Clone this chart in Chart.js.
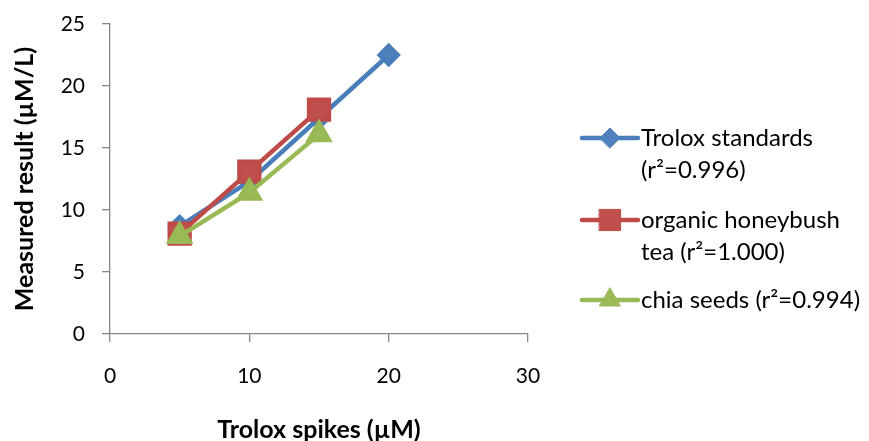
<!DOCTYPE html>
<html><head><meta charset="utf-8">
<script src="https://cdn.jsdelivr.net/npm/chart.js@4/dist/chart.umd.min.js"></script>
<style>html,body{margin:0;padding:0;background:#fff}#wrap{width:869px;height:441px}</style>
</head><body><div id="wrap"><canvas id="c" width="869" height="441"></canvas></div>
<script>
const spikes = [5, 10, 15, 20];
const troloxStd = [8.7, 12.3, 17.4, 22.5];
const honeybush = [8.1, 13.1, 18.1];
const chia = [7.9, 11.4, 16.1];
const seriesLabels = [
  ["Trolox standards", "(r²=0.996)"],
  ["organic honeybush", "tea (r²=1.000)"],
  ["chia seeds (r²=0.994)"]
];
const xTitle = "Trolox spikes (µM)";
const yTitle = "Measured result (µM/L)";
const FONT = "Lato";

function pts(vals){ return vals.map((v,i)=>({x:spikes[i], y:v})); }

const legendPlugin = {
  id: 'customLegend',
  afterDraw(chart){
    const ctx = chart.ctx;
    const x0 = 582, x1 = 638, tx = 641;
    const ys = [138, 220, 300];
    const legendRadius = [10, 15, 12];
    chart.data.datasets.forEach((ds, i) => {
      const y = ys[i];
      ctx.save();
      ctx.strokeStyle = ds.borderColor; ctx.lineWidth = 4.5; ctx.lineCap = 'round';
      ctx.beginPath(); ctx.moveTo(x0, y); ctx.lineTo(x1, y); ctx.stroke();
      ctx.fillStyle = ds.pointBackgroundColor; ctx.strokeStyle = ds.pointBorderColor; ctx.lineWidth = 1;
      Chart.helpers.drawPoint(ctx, {pointStyle: ds.pointStyle, rotation: 0, radius: legendRadius[i], borderWidth: 1}, (x0+x1)/2, y);
      ctx.restore();
      ctx.save();
      ctx.fillStyle = '#000'; ctx.font = '24px ' + FONT; ctx.textBaseline = 'middle';
      ds.label.forEach((t, k) => ctx.fillText(t, tx, y + k*32));
      ctx.restore();
    });
  }
};

new Chart(document.getElementById('c'), {
  type: 'line',
  data: {
    datasets: [
      {label: seriesLabels[0], data: pts(troloxStd), order: 2, borderColor: '#4A7EBB', backgroundColor: '#4F81BD',
       pointBackgroundColor: '#4F81BD', pointBorderColor: '#4A7EBB', pointStyle: 'rectRot', pointRadius: 9, borderWidth: 4.5},
      {label: seriesLabels[1], data: pts(honeybush), order: 1, borderColor: '#BE4B48', backgroundColor: '#C0504D',
       pointBackgroundColor: '#C0504D', pointBorderColor: '#BE4B48', pointStyle: 'rect', pointRadius: 14, borderWidth: 4.5},
      {label: seriesLabels[2], data: pts(chia), order: 0, borderColor: '#98B954', backgroundColor: '#9BBB59',
       pointBackgroundColor: '#9BBB59', pointBorderColor: '#98B954', pointStyle: 'triangle', pointRadius: 11.5, borderWidth: 4.5}
    ]
  },
  options: {
    responsive: false, animation: false, devicePixelRatio: 1,
    layout: {padding: {left: 0, right: 341, top: 24, bottom: 0}},
    plugins: {legend: {display: false}, tooltip: {enabled: false}},
    elements: {line: {tension: 0}},
    scales: {
      x: {type: 'linear', min: 0, max: 30,
          afterFit(s){ s.height = 107; s.paddingLeft = 0; s.paddingRight = 0; },
          ticks: {stepSize: 10, color: '#000', font: {family: FONT, size: 21}, padding: 22},
          grid: {display: true, drawOnChartArea: false, drawTicks: true, tickLength: 8, color: '#888888', lineWidth: 1.3},
          border: {color: '#888888', width: 1.3},
          title: {display: true, text: xTitle, color: '#000', font: {family: FONT, size: 25, weight: 'bold', lineHeight: 0.9}, padding: {top: 0, bottom: 0}}},
      y: {min: 0, max: 25,
          afterFit(s){ s.width = 110; s.paddingTop = 0; s.paddingBottom = 0; },
          ticks: {stepSize: 5, color: '#000', font: {family: FONT, size: 21}, padding: 17},
          grid: {display: true, drawOnChartArea: false, drawTicks: true, tickLength: 8, color: '#888888', lineWidth: 1.3},
          border: {color: '#888888', width: 1.3},
          title: {display: true, text: yTitle, color: '#000', font: {family: FONT, size: 25, weight: 'bold'}, padding: {top: 10, bottom: 0}}}
    }
  },
  plugins: [legendPlugin]
});
</script></body></html>
